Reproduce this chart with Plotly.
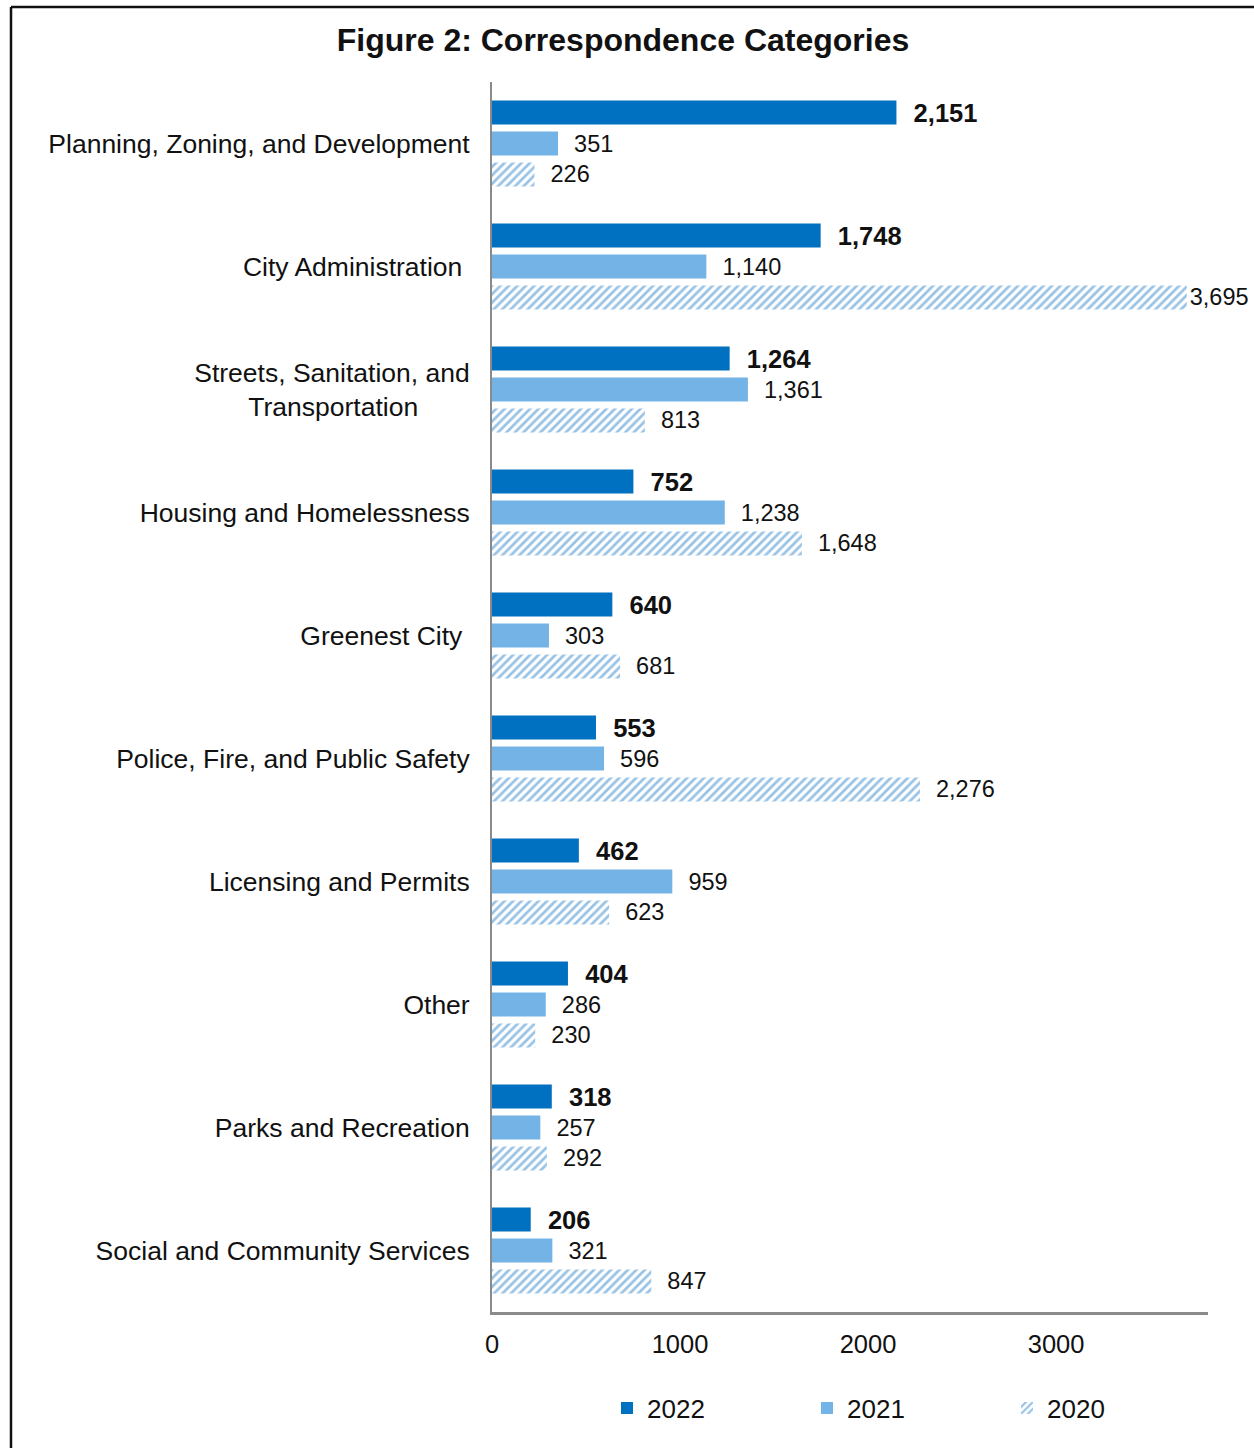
import plotly.graph_objects as go

# Correspondence volume by category and year
categories = [
    "Planning, Zoning, and Development",
    "City Administration",
    "Streets, Sanitation, and Transportation",
    "Housing and Homelessness",
    "Greenest City",
    "Police, Fire, and Public Safety",
    "Licensing and Permits",
    "Other",
    "Parks and Recreation",
    "Social and Community Services",
]
tick_labels = [
    "Planning, Zoning, and Development",
    "City Administration\u00a0",
    "Streets, Sanitation, and<br>Transportation" + "\u00a0" * 7,
    "Housing and Homelessness",
    "Greenest City\u00a0",
    "Police, Fire, and Public Safety",
    "Licensing and Permits",
    "Other",
    "Parks and Recreation",
    "Social and Community Services",
]
years = ["2022", "2021", "2020"]
values_2022 = [2151, 1748, 1264, 752, 640, 553, 462, 404, 318, 206]
values_2021 = [351, 1140, 1361, 1238, 303, 596, 959, 286, 257, 321]
values_2020 = [226, 3695, 813, 1648, 681, 2276, 623, 230, 292, 847]
x_ticks = [0, 1000, 2000, 3000]

W, H = 1254, 1448
L, R, T, B = 492, 1208, 82, 1312   # plot area in pixels
X_MAX = 3808

FONT = "Liberation Sans, Arial, sans-serif"
NBSP = "\u00a0"


def labels(vals):
    out = []
    for v in vals:
        pad = "" if v > 3500 else NBSP * 2
        out.append(pad + f"{v:,}")
    return out


fig = go.Figure()
fig.add_trace(go.Bar(
    name=years[0], y=categories, x=values_2022, orientation="h",
    marker=dict(color="#0070C0", line=dict(width=0)),
    text=labels(values_2022), textposition="outside",
    textfont=dict(family=FONT, size=25.5, color="#111111", weight="bold"),
    cliponaxis=False, constraintext="none",
))
fig.add_trace(go.Bar(
    name=years[1], y=categories, x=values_2021, orientation="h",
    marker=dict(color="#74B3E6", line=dict(width=0)),
    text=labels(values_2021), textposition="outside",
    textfont=dict(family=FONT, size=23.5, color="#111111"),
    cliponaxis=False, constraintext="none",
))
fig.add_trace(go.Bar(
    name=years[2], y=categories, x=values_2020, orientation="h",
    marker=dict(
        color="white", line=dict(width=0),
        pattern=dict(shape="/", fgcolor="#2F86CC", bgcolor="white",
                     size=6, solidity=0.45),
    ),
    text=labels(values_2020), textposition="outside",
    textfont=dict(family=FONT, size=23.5, color="#111111"),
    cliponaxis=False, constraintext="none",
))


def px_x(p):
    return (p - L) / (R - L)


def px_y(p):
    return (B - p) / (B - T)


# outer frame (top and left edges visible)
fig.add_shape(type="line", xref="paper", yref="paper",
              x0=px_x(11), x1=px_x(1300), y0=px_y(7), y1=px_y(7),
              line=dict(color="#111111", width=2.5))
fig.add_shape(type="line", xref="paper", yref="paper",
              x0=px_x(11), x1=px_x(11), y0=px_y(7), y1=px_y(1500),
              line=dict(color="#111111", width=2.5))

fig.update_layout(
    width=W, height=H,
    margin=dict(l=L, r=W - R, t=T, b=H - B, pad=0, autoexpand=False),
    paper_bgcolor="white", plot_bgcolor="white",
    barmode="group", bargap=0.245, bargroupgap=0.22,
    font=dict(family=FONT, color="#111111"),
    title=dict(
        text="<b>Figure 2: Correspondence Categories</b>",
        font=dict(family=FONT, size=32, color="#111111"),
        x=623 / W, xref="container", xanchor="center",
        y=1 - 40 / H, yref="container", yanchor="middle",
    ),
    xaxis=dict(
        range=[0, X_MAX], tickvals=x_ticks, ticktext=[str(t) for t in x_ticks],
        showgrid=False, zeroline=False, showline=True,
        linecolor="#8A8A8A", linewidth=3, ticks="",
        ticklabelstandoff=7,
        tickfont=dict(family=FONT, size=25.5, color="#111111"),
    ),
    yaxis=dict(
        autorange="reversed", tickvals=categories, ticktext=tick_labels,
        showgrid=False, zeroline=False, showline=True,
        linecolor="#8A8A8A", linewidth=2, ticks="",
        ticklabelstandoff=15,
        tickfont=dict(family=FONT, size=26.5, color="#111111"),
    ),
    legend=dict(
        orientation="h", x=607 / W, xref="container", xanchor="left",
        y=1 - 1408 / H, yref="container", yanchor="middle",
        entrywidth=155, entrywidthmode="pixels",
        font=dict(family=FONT, size=26, color="#111111"),
        bgcolor="rgba(0,0,0,0)", traceorder="normal",
    ),
)

fig.write_html("out.html")
